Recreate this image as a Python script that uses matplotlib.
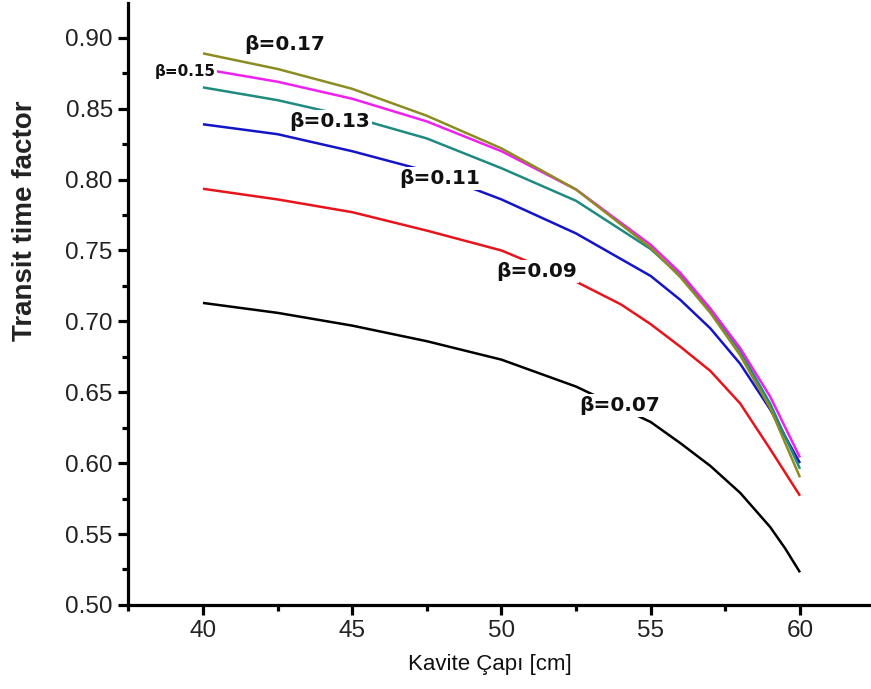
import matplotlib
matplotlib.use("Agg")
import matplotlib.pyplot as plt
from matplotlib.ticker import MultipleLocator, FormatStrFormatter

# Cavity diameter (cm) sample points and transit time factor for each beta
x_b07 = [40, 42.5, 45, 47.5, 50, 52.5, 55, 56, 57, 58, 59, 59.5, 60]
y_b07 = [0.713, 0.706, 0.697, 0.686, 0.673, 0.654, 0.629, 0.614, 0.598, 0.579, 0.555, 0.540, 0.523]

x_b09 = [40, 42.5, 45, 47.5, 50, 52.5, 54, 55, 56, 57, 58, 59, 60]
y_b09 = [0.7935, 0.786, 0.777, 0.764, 0.750, 0.728, 0.712, 0.698, 0.682, 0.665, 0.642, 0.610, 0.577]

x_b11 = [40, 42.5, 45, 47.5, 50, 52.5, 55, 56, 57, 58, 59, 60]
y_b11 = [0.839, 0.832, 0.820, 0.806, 0.786, 0.762, 0.732, 0.715, 0.695, 0.670, 0.638, 0.600]

x_b13 = [40, 42.5, 45, 47.5, 50, 52.5, 55, 56, 57, 58, 59, 60]
y_b13 = [0.865, 0.856, 0.844, 0.829, 0.808, 0.785, 0.751, 0.732, 0.708, 0.679, 0.642, 0.596]

x_b15 = [40, 42.5, 45, 47.5, 50, 52.5, 55, 56, 57, 58, 59, 60]
y_b15 = [0.878, 0.869, 0.857, 0.841, 0.820, 0.793, 0.754, 0.734, 0.709, 0.681, 0.647, 0.604]

x_b17 = [40, 42.5, 45, 47.5, 50, 52.5, 55, 56, 57, 58, 59, 60]
y_b17 = [0.889, 0.878, 0.864, 0.845, 0.822, 0.793, 0.752, 0.731, 0.706, 0.676, 0.639, 0.590]

labels = ["β=0.07", "β=0.09", "β=0.11", "β=0.13", "β=0.15", "β=0.17"]

fig = plt.figure(figsize=(8.71, 6.89), dpi=100)
ax = fig.add_axes([0.147, 0.122, 0.853, 0.874])

series = [
    (x_b07, y_b07, "#000000"),
    (x_b09, y_b09, "#e8141c"),
    (x_b11, y_b11, "#1414c8"),
    (x_b13, y_b13, "#1f8a80"),
    (x_b15, y_b15, "#f020f0"),
    (x_b17, y_b17, "#8c8c22"),
]
for xs, ys, c in series:
    ax.plot(xs, ys, color=c, lw=1.8, solid_capstyle="butt", solid_joinstyle="round")

# curve labels on white boxes that interrupt the lines
label_pos = [(53.97, 0.641, 14.5), (51.19, 0.735, 14.5), (47.94, 0.801, 14.5),
             (44.25, 0.8407, 14.5), (39.4, 0.876, 11.0), (42.75, 0.895, 14.5)]
for txt, (lx, ly, fs) in zip(labels, label_pos):
    ax.text(lx, ly, txt, fontsize=fs, fontweight="bold", family="DejaVu Sans",
            ha="center", va="center", zorder=5, color="#111111",
            bbox=dict(boxstyle="square,pad=0.1", fc="white", ec="none"))

ax.set_xlim(37.49, 62.38)
ax.set_ylim(0.5, 0.9247)
ax.xaxis.set_major_locator(MultipleLocator(5))
ax.xaxis.set_minor_locator(MultipleLocator(2.5))
ax.yaxis.set_major_locator(MultipleLocator(0.05))
ax.yaxis.set_minor_locator(MultipleLocator(0.025))
ax.set_xticks([40, 45, 50, 55, 60])
ax.yaxis.set_major_formatter(FormatStrFormatter("%.2f"))

for s in ("top", "right"):
    ax.spines[s].set_visible(False)
for s in ("left", "bottom"):
    ax.spines[s].set_linewidth(2.3)

ax.tick_params(which="major", direction="out", length=7, width=2.3,
               labelsize=17.5, pad=4, colors="black", labelcolor="#222222")
ax.tick_params(which="minor", direction="out", length=4.5, width=2.3)
for lab in ax.get_xticklabels() + ax.get_yticklabels():
    lab.set_family("Liberation Sans")

fig.text(0.029, 0.68, "Transit time factor", rotation=90, ha="center", va="center",
         fontsize=20, fontweight="bold", family="Liberation Sans", color="#222222")
fig.text(0.563, 0.035, "Kavite Çapı [cm]", ha="center", va="center",
         fontsize=16, family="Liberation Sans", color="#111111")

fig.savefig("out.png", dpi=100, facecolor="white")
